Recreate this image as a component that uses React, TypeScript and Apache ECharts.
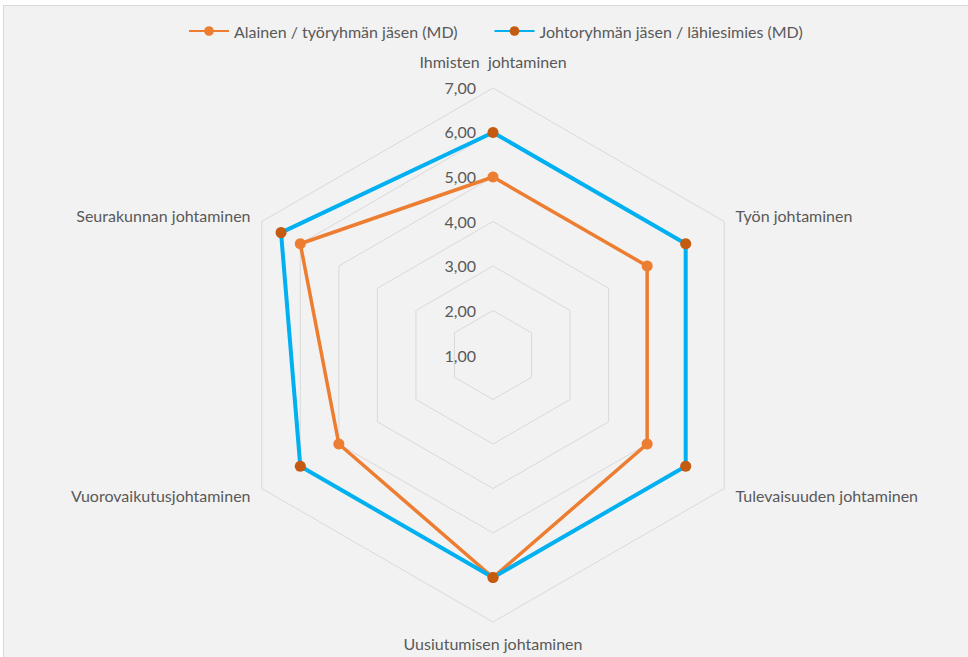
import React, { useEffect, useRef } from "react";
import * as echarts from "echarts";

// Excel order, clockwise from the top
const indicatorNames = [
  "Ihmisten  johtaminen",
  "Työn johtaminen",
  "Tulevaisuuden johtaminen",
  "Uusiutumisen johtaminen",
  "Vuorovaikutusjohtaminen",
  "Seurakunnan johtaminen",
];
const seriesNames = [
  "Alainen / työryhmän jäsen (MD)",
  "Johtoryhmän jäsen / lähiesimies (MD)",
];
const alainenValues = [5.0, 5.0, 5.0, 6.0, 5.0, 6.0];
const johtoValues = [6.0, 6.0, 6.0, 6.0, 6.0, 6.5];
const axisMin = 1;
const axisMax = 7;
const axisStep = 1;

const FONT = "Lato, 'Noto Sans', sans-serif";
const TEXT = "#595959";
const ORANGE = "#ED7D31";
const BLUE = "#00B0F0";
const DARK_ORANGE = "#C55A11";

// ECharts radar places indicators counter-clockwise; reorder to match clockwise layout
const toEc = <T,>(arr: T[]): T[] => [arr[0], ...arr.slice(1).reverse()];

export default function App() {
  const ref = useRef<HTMLDivElement>(null);

  useEffect(() => {
    document.body.style.margin = "0";
    if (!ref.current) return;
    const chart = echarts.init(ref.current, null, { renderer: "svg" });
    chart.setOption({
      animation: false,
      backgroundColor: "transparent",
      textStyle: { fontFamily: FONT },
      legend: {
        top: 18,
        left: 183,
        itemWidth: 40,
        itemHeight: 12,
        itemGap: 36,
        data: seriesNames,
        textStyle: { color: TEXT, fontSize: 16, fontFamily: FONT },
      },
      grid: { left: 485, top: 87, width: 1, height: 268 },
      xAxis: { type: "value", show: false },
      yAxis: {
        type: "value",
        min: axisMin,
        max: axisMax,
        interval: axisStep,
        axisLine: { show: false },
        axisTick: { show: false },
        splitLine: { show: false },
        axisLabel: {
          color: TEXT,
          fontSize: 16,
          fontFamily: FONT,
          margin: 9,
          formatter: (v: number) => v.toFixed(2).replace(".", ","),
        },
      },
      radar: {
        center: [493, 355],
        radius: 267,
        startAngle: 90,
        splitNumber: 6,
        shape: "polygon",
        nameGap: 13,
        indicator: toEc(indicatorNames).map((n) => ({ name: n, min: axisMin, max: axisMax })),
        axisName: {
          color: TEXT,
          fontSize: 16,
          fontFamily: FONT,
          formatter: (name: string) => (name === indicatorNames[0] ? `{t|${name}}` : name),
          rich: {
            t: { color: TEXT, fontSize: 16, fontFamily: FONT, padding: [0, 0, 6, 0] },
          },
        },
        axisLine: { show: false },
        axisTick: { show: false },
        axisLabel: { show: false },
        splitLine: { lineStyle: { color: "#D9D9D9", width: 1 } },
        splitArea: { show: false },
      },
      series: [
        {
          type: "line",
          name: seriesNames[0],
          data: [],
          symbol: "circle",
          symbolSize: 10,
          lineStyle: { color: ORANGE, width: 4 },
          itemStyle: { color: ORANGE },
        },
        {
          type: "line",
          name: seriesNames[1],
          data: [],
          symbol: "circle",
          symbolSize: 10,
          lineStyle: { color: BLUE, width: 4 },
          itemStyle: { color: DARK_ORANGE },
        },
        {
          type: "radar",
          name: "r1",
          symbol: "circle",
          symbolSize: 11,
          lineStyle: { color: ORANGE, width: 3.5 },
          itemStyle: { color: ORANGE },
          data: [{ value: toEc(alainenValues), name: "a" }],
        },
        {
          type: "radar",
          name: "r2",
          symbol: "circle",
          symbolSize: 11,
          lineStyle: { color: BLUE, width: 4 },
          itemStyle: { color: DARK_ORANGE },
          data: [{ value: toEc(johtoValues), name: "b" }],
        },
      ],
    });
    return () => chart.dispose();
  }, []);

  return (
    <div style={{ position: "relative", width: 968, height: 657, overflow: "hidden", background: "#FFFFFF" }}>
      <div
        style={{
          position: "absolute",
          left: 3,
          top: 5,
          width: 990,
          height: 670,
          background: "#F2F2F2",
          borderTop: "1px solid #D9D9D9",
          borderLeft: "1px solid #D9D9D9",
        }}
      />
      <div ref={ref} style={{ position: "absolute", left: 0, top: 0, width: 968, height: 657 }} />
    </div>
  );
}
